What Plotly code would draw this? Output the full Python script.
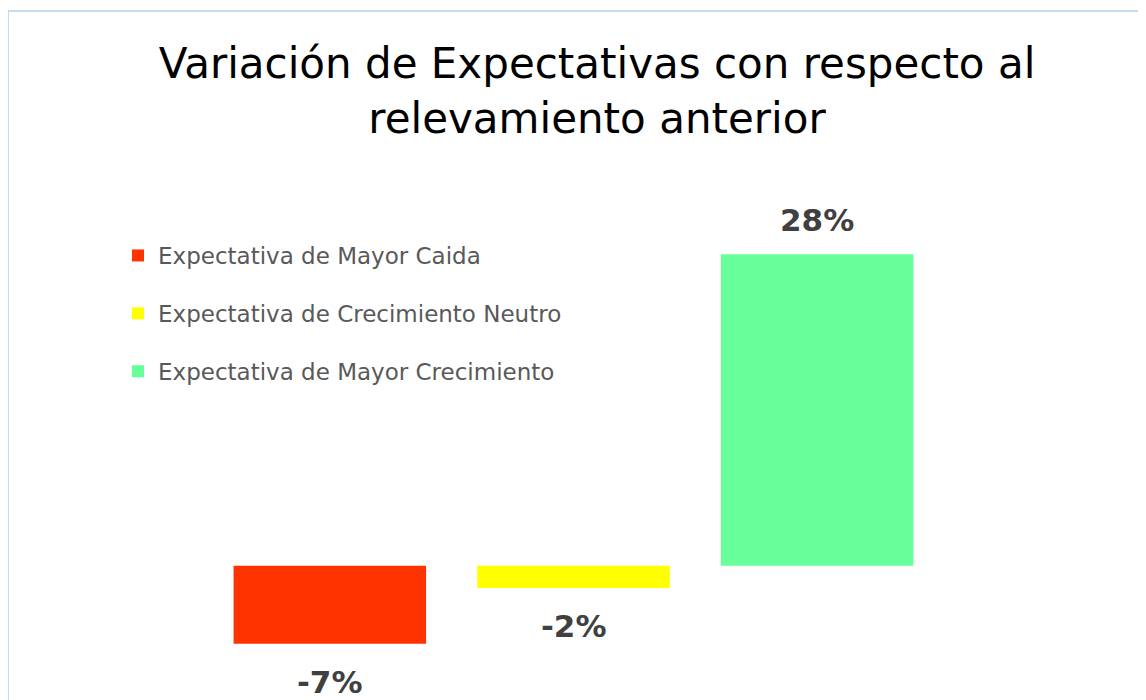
import plotly.graph_objects as go

# === Datos ===
series = ['Expectativa de Mayor Caida', 'Expectativa de Crecimiento Neutro', 'Expectativa de Mayor Crecimiento']
valores = [-0.07, -0.02, 0.28]
etiquetas = ['-7%', '-2%', '28%']
colores = ['#FF3300', '#FFFF00', '#66FF99']

# la pagina tiene 8px de margen en body
W, H = 1146, 700
L, R, T, B = 200, 215, 224, 31

fig = go.Figure()

for i, (nombre, v, c) in enumerate(zip(series, valores, colores)):
    fig.add_trace(go.Bar(
        x=[i], y=[v], name=nombre, width=0.79,
        marker=dict(color=c, line=dict(width=0)),
        legendgroup=nombre,
        hoverinfo='skip'
    ))
    fig.add_annotation(
        x=i, y=v, text=f'<b>{etiquetas[i]}</b>', showarrow=False,
        yanchor='bottom' if v > 0 else 'top',
        yshift=14 if v > 0 else -18,
        font=dict(family='DejaVu Sans', size=31, color='#404040')
    )

# marco del grafico
pw, ph = W - L - R, H - T - B
fig.add_shape(
    type='rect', xref='paper', yref='paper',
    x0=(0 - L) / pw, x1=(W + 20 - L) / pw,
    y0=(H - B - (H + 20)) / ph, y1=(H - B - 3) / ph,
    line=dict(color='#B4CFEA', width=1.5), layer='below'
)

fig.update_layout(
    width=W, height=H,
    paper_bgcolor='white', plot_bgcolor='white',
    margin=dict(l=L, r=R, t=T, b=B),
    title=dict(
        text='Variación de Expectativas con respecto al<br>relevamiento anterior',
        x=589 / W, xanchor='center', y=1 - 70 / H, yanchor='top',
        font=dict(family='DejaVu Sans', size=42, color='#000000')
    ),
    showlegend=True,
    legend=dict(
        x=(110 - L) / pw, xanchor='left', y=(H - B - 226) / ph, yanchor='top',
        font=dict(family='DejaVu Sans', size=23, color='#595959'),
        traceorder='grouped', tracegroupgap=25, itemwidth=30,
        bgcolor='rgba(0,0,0,0)'
    ),
    bargap=0.2
)

fig.update_xaxes(range=[-0.5, 2.5], visible=False)
fig.update_yaxes(range=[-0.1, 0.3], visible=False, zeroline=False)

fig.write_html('out.html')
